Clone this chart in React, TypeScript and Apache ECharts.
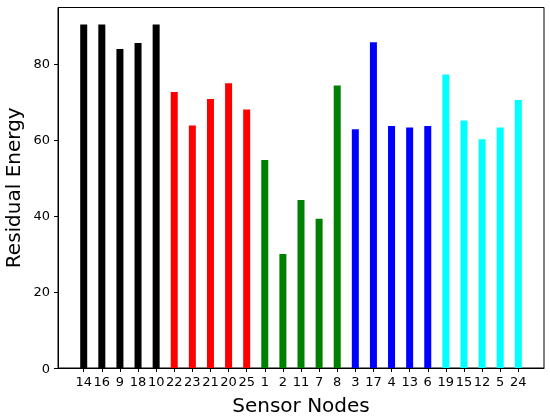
import React, { useEffect, useRef } from "react";
import * as echarts from "echarts";

const nodes = ["14","16","9","18","10","22","23","21","20","25","1","2","11","7","8","3","17","4","13","6","19","15","12","5","24"];
const energy = [90.4, 90.4, 83.9, 85.5, 90.4, 72.6, 63.8, 70.8, 74.9, 68.0, 54.7, 30.0, 44.2, 39.3, 74.3, 62.8, 85.7, 63.7, 63.3, 63.7, 77.2, 65.1, 60.2, 63.3, 70.5];
const groupColors = ["#000000", "#ff0000", "#008000", "#0000ff", "#00ffff"];
const yTicks = [0, 20, 40, 60, 80];

export default function App() {
  const ref = useRef<HTMLDivElement>(null);
  useEffect(() => {
    if (!ref.current) return;
    const chart = echarts.init(ref.current, null, { renderer: "svg" });
    const idx = nodes.map((_, i) => i);
    const font = "DejaVu Sans";
    chart.setOption({
      animation: false,
      grid: { left: 58, right: 6, top: 7.5, bottom: 50, outerBoundsMode: "none", containLabel: false, show: true, borderColor: "#000", borderWidth: 1, backgroundColor: "transparent" },
      xAxis: {
        type: "value",
        min: -1.42,
        max: nodes.length - 1 + 1.42,
        name: "Sensor Nodes",
        nameLocation: "middle",
        nameGap: 27,
        nameTextStyle: { fontFamily: font, fontSize: 20, color: "#000" },
        axisLine: { show: true, onZero: false, lineStyle: { color: "#000", width: 1 } },
        axisTick: { show: true, length: 4, customValues: idx, lineStyle: { color: "#000" } },
        axisLabel: {
          show: true,
          customValues: idx,
          margin: 7,
          fontFamily: font,
          fontSize: 13,
          color: "#000",
          formatter: (v: number) => nodes[Math.round(v)] ?? "",
        },
        splitLine: { show: false },
      },
      yAxis: {
        type: "value",
        min: 0,
        max: 94.85,
        name: "Residual Energy",
        nameLocation: "middle",
        nameGap: 32,
        nameTextStyle: { fontFamily: font, fontSize: 20, color: "#000" },
        axisLine: { show: true, onZero: false, lineStyle: { color: "#000", width: 1 } },
        axisTick: { show: true, length: 4, customValues: yTicks, lineStyle: { color: "#000" } },
        axisLabel: { show: true, customValues: yTicks, margin: 8, fontFamily: font, fontSize: 13, color: "#000" },
        splitLine: { show: false },
      },
      series: [
        {
          type: "bar",
          barWidth: 7,
          data: energy.map((v, i) => ({
            value: [i, v],
            itemStyle: { color: groupColors[Math.floor(i / 5)] },
          })),
        },
      ],
    });
    return () => chart.dispose();
  }, []);
  return <div ref={ref} style={{ position: "fixed", left: 0, top: 0, width: 550, height: 418 }} />;
}
